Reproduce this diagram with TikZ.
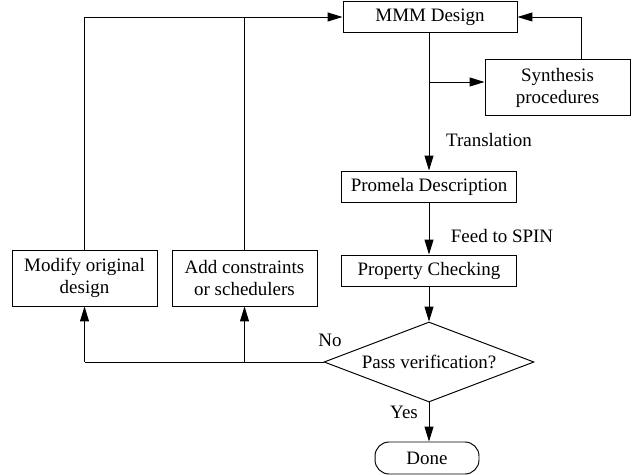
\documentclass[tikz,border=0pt]{standalone}
\usepackage{fontspec}
\setmainfont{Liberation Serif}
\usetikzlibrary{arrows.meta,shapes.geometric}
\begin{document}
\begin{tikzpicture}[x=0.02cm, y=-0.02cm,
        font=\fontsize{10.8pt}{12.5pt}\selectfont,
        every path/.style={line width=0.55pt},
        box/.style={draw, rectangle, inner sep=1pt, minimum width=3.5cm, minimum height=0.62cm},
        twobox/.style={draw, rectangle, align=center, inner sep=1pt, minimum width=2.9cm, minimum height=1.12cm},
        arr/.style={-{Triangle[length=0.3cm, width=0.18cm]}}]
        \useasboundingbox (0, 0) rectangle (634, 475);

        % Main column
        \node[box, minimum width=3.48cm] (design) at (430, 17) {MMM Design};
        \node[box] (promela) at (429, 186.5) {Promela Description};
        \node[box] (check) at (429, 270.5) {Property Checking};
        \node[draw, diamond, aspect=2.6, inner sep=0pt, minimum width=4.2cm, minimum height=1.6cm] (decide) at (429, 362) {Pass verification?};
        \node[draw, rectangle, rounded corners=8pt, minimum width=2.08cm, minimum height=0.64cm] (done) at (427, 458) {Done};

        % Side boxes
        \node[twobox] (synth) at (557.5, 87.5) {Synthesis\\procedures};
        \node[twobox] (modify) at (84.5, 278) {Modify original\\design};
        \node[twobox] (add) at (244.5, 278) {Add constraints\\or schedulers};

        % Flow down
        \draw[arr] (design.south -| promela.north) -- (promela.north);
        \coordinate (fork) at (429, 82);
        \draw[arr] (fork) -- (fork -| synth.west);
        \draw[arr] ([xshift=0.48cm]synth.north) |- (design.east);
        \draw[arr] (promela) -- (check);
        \draw[arr] (check.south) -- (decide.north);
        \draw[arr] (decide.south) -- (decide.south |- done.north);

        % Feedback
        \draw (decide.west) -- (decide.west -| modify.south);
        \draw[arr] (decide.west -| modify.south) -- (modify.south);
        \draw[arr] (decide.west -| add.south) -- (add.south);
        \draw[arr] (modify.north) |- (design.west);
        \draw (add.north) -- (add.north |- design.west);

        % Labels
        \node at (489, 140) {Translation};
        \node at (502, 236) {Feed to SPIN};
        \node at (330, 340) {No};
        \node at (404, 412) {Yes};
\end{tikzpicture}
\end{document}
